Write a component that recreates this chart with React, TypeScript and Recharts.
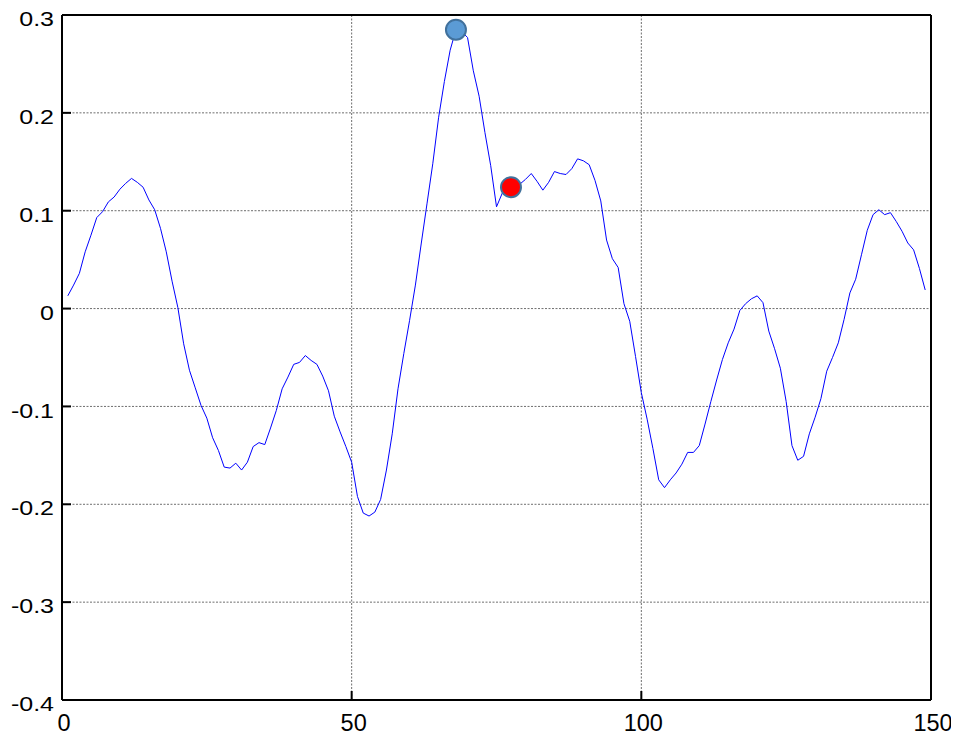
import React from "react";
import { ComposedChart, Line, Scatter, XAxis, YAxis, CartesianGrid } from "recharts";

const yValues: number[] = [
  0.013, 0.024, 0.036, 0.058, 0.075, 0.093, 0.099, 0.109, 0.114, 0.122,
  0.128, 0.133, 0.129, 0.124, 0.111, 0.101, 0.082, 0.058, 0.028, 0.001,
  -0.036, -0.063, -0.081, -0.099, -0.112, -0.132, -0.145, -0.162, -0.163, -0.158,
  -0.165, -0.157, -0.141, -0.137, -0.139, -0.122, -0.104, -0.082, -0.07, -0.057,
  -0.055, -0.048, -0.053, -0.057, -0.069, -0.084, -0.11, -0.126, -0.141, -0.157,
  -0.192, -0.209, -0.212, -0.208, -0.195, -0.165, -0.128, -0.082, -0.046, -0.012,
  0.024, 0.066, 0.107, 0.148, 0.195, 0.232, 0.264, 0.285, 0.283, 0.277,
  0.243, 0.217, 0.18, 0.146, 0.104, 0.118, 0.124, 0.124, 0.127, 0.132,
  0.138, 0.13, 0.121, 0.129, 0.14, 0.138, 0.137, 0.143, 0.153, 0.151,
  0.147, 0.131, 0.11, 0.07, 0.051, 0.042, 0.005, -0.013, -0.049, -0.086,
  -0.113, -0.143, -0.175, -0.183, -0.175, -0.168, -0.159, -0.147, -0.147, -0.14,
  -0.118, -0.095, -0.073, -0.052, -0.035, -0.021, -0.002, 0.005, 0.01, 0.013,
  0.006, -0.023, -0.041, -0.061, -0.095, -0.14, -0.155, -0.151, -0.128, -0.111,
  -0.092, -0.064, -0.05, -0.035, -0.011, 0.016, 0.03, 0.055, 0.08, 0.096,
  0.101, 0.096, 0.098, 0.089, 0.079, 0.067, 0.06, 0.041, 0.019,
];
const xStart = 1;

const peakPoint = [{ x: 68, y: 0.285 }];
const redPoint = [{ x: 77.5, y: 0.124 }];

const xTicks = [0, 50, 100, 150];
const yTicks = [-0.4, -0.3, -0.2, -0.1, 0, 0.1, 0.2, 0.3];

const lineData = yValues.map((v, i) => ({ x: xStart + i, y: v }));

const FONT = "'Liberation Sans', Arial, sans-serif";

const fmt = (v: number) => (Math.abs(v) < 1e-9 ? "0" : String(Math.round(v * 10) / 10));

const YTick = (props: any) => {
  const { x, y, payload } = props;
  const yy = y + 4;
  return (
    <text
      x={x}
      y={yy}
      textAnchor="end"
      dominantBaseline="central"
      fontSize={20.5}
      fontFamily={FONT}
      fill="#000"
      transform={`translate(${x},${yy}) scale(1.22,1) translate(${-x},${-yy})`}
    >
      {fmt(payload.value)}
    </text>
  );
};

const XTick = (props: any) => {
  const { x, y, payload } = props;
  return (
    <text
      x={x + 2}
      y={y}
      textAnchor="middle"
      dominantBaseline="central"
      fontSize={23.5}
      fontFamily={FONT}
      fill="#000"
    >
      {fmt(payload.value)}
    </text>
  );
};

const bluePeak = (p: any) => (
  <circle cx={p.cx} cy={p.cy} r={10} fill="#5B9BD5" stroke="#41719C" strokeWidth={2} />
);
const redDot = (p: any) => (
  <circle cx={p.cx} cy={p.cy} r={10} fill="#FF0000" stroke="#41719C" strokeWidth={2} />
);

export default function App() {
  return (
    <div style={{ margin: "-8px 0 0 -8px", width: 959, height: 738 }}>
      <ComposedChart
        width={959}
        height={738}
        data={lineData}
        margin={{ top: 14, right: 27, left: 0, bottom: 0 }}
        style={{ background: "#fff" }}
      >
        <CartesianGrid stroke="#6e6e6e" strokeDasharray="2 1.5" strokeWidth={1} />
        <XAxis
          xAxisId={0}
          dataKey="x"
          type="number"
          domain={[0, 150]}
          ticks={xTicks}
          height={38}
          axisLine={{ stroke: "#000", strokeWidth: 2 }}
          tickLine={{ stroke: "#000", strokeWidth: 2 }}
          tickSize={-9}
          tickMargin={32}
          tick={<XTick />}
          interval={0}
        />
        <XAxis
          xAxisId="top"
          orientation="top"
          dataKey="x"
          type="number"
          domain={[0, 150]}
          ticks={xTicks}
          height={1}
          axisLine={{ stroke: "#000", strokeWidth: 2 }}
          tickLine={{ stroke: "#000", strokeWidth: 2 }}
          tickSize={-9}
          tick={false}
          interval={0}
        />
        <YAxis
          yAxisId={0}
          type="number"
          domain={[-0.4, 0.3]}
          ticks={yTicks}
          width={62}
          axisLine={{ stroke: "#000", strokeWidth: 2 }}
          tickLine={{ stroke: "#000", strokeWidth: 2 }}
          tickSize={-9}
          tickMargin={17}
          tick={<YTick />}
          interval={0}
          allowDataOverflow
        />
        <YAxis
          yAxisId="right"
          orientation="right"
          type="number"
          domain={[-0.4, 0.3]}
          ticks={yTicks}
          width={1}
          axisLine={{ stroke: "#000", strokeWidth: 2 }}
          tickLine={{ stroke: "#000", strokeWidth: 2 }}
          tickSize={-9}
          tick={false}
          interval={0}
          allowDataOverflow
        />
        <Line
          type="linear"
          dataKey="y"
          stroke="#0000FF"
          strokeWidth={1}
          dot={false}
          activeDot={false}
          isAnimationActive={false}
        />
        <Scatter data={peakPoint} dataKey="y" shape={bluePeak} isAnimationActive={false} />
        <Scatter data={redPoint} dataKey="y" shape={redDot} isAnimationActive={false} />
      </ComposedChart>
    </div>
  );
}
